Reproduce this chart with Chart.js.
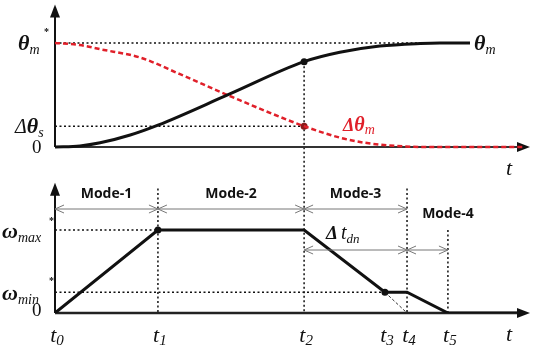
<!DOCTYPE html>
<html>
<head>
<meta charset="utf-8">
<script src="https://cdn.jsdelivr.net/npm/chart.js@4"></script>
<style>
  html, body { margin: 0; padding: 0; background: #fff; }
  #wrap { width: 534px; height: 352px; }
</style>
</head>
<body>
<div id="wrap"><canvas id="c" width="534" height="352"></canvas></div>
<script>
// Switching instants t0..t5 (time units along the shared horizontal axis)
const instants = [0, 2.19, 5.30, 7.02, 7.49, 8.36];
const instantNames = ['0', '1', '2', '3', '4', '5'];

// Position response theta_m (normalised to theta_m* = 1)
const thetaTime   = [0, 0.53, 0.96, 1.60, 2.19, 3.72, 5.30, 6.06, 6.91, 7.77, 8.19, 8.83];
const thetaValues = [0, 0.01, 0.04, 0.115, 0.21, 0.51, 0.82, 0.91, 0.97, 0.995, 1.0, 1.0];

// Position error delta theta_m
const errTime   = [0, 0.53, 0.96, 1.81, 2.66, 3.72, 5.30, 6.06, 6.60, 7.45, 8.00, 10];
const errValues = [1.0, 0.98, 0.94, 0.86, 0.70, 0.49, 0.20, 0.09, 0.04, 0.005, 0, 0];

// Speed reference profile omega (normalised to omega_max* = 1)
const omegaTime   = [0, 2.19, 5.30, 7.02, 7.49, 8.36, 10];
const omegaValues = [0, 1, 1, 0.25, 0.25, 0, 0];

// Reference levels
const thetaRef = 1.0;
const thetaSwitch = 0.2;
const omegaMax = 1.0;
const omegaMin = 0.25;

// Operating modes: [name, start instant index, end instant index]
const modeNames = ['Mode-1', 'Mode-2', 'Mode-3', 'Mode-4'];
const modeSpans = [[0, 1], [1, 2], [2, 4], [4, 5]];

const RED = '#e0202a';
const SERIF = '"Liberation Serif", "DejaVu Serif", serif';
const SANS = '"Open Sans", "Liberation Sans", sans-serif';

function pts(xs, ys) { return xs.map((x, i) => ({ x, y: ys[i] })); }

// Draws a run of text pieces (main symbol, subscript, etc.) left to right
function drawRun(ctx, x, y, parts, align, color) {
  ctx.save();
  ctx.textBaseline = 'alphabetic';
  ctx.textAlign = 'left';
  let total = 0;
  parts.forEach(p => { ctx.font = p.f; total += ctx.measureText(p.t).width + (p.gap || 0); });
  let cx = x;
  if (align === 'center') cx = x - total / 2;
  if (align === 'right') cx = x - total;
  parts.forEach(p => {
    ctx.font = p.f;
    ctx.fillStyle = p.c || color || '#111';
    ctx.fillText(p.t, cx, y + (p.dy || 0));
    cx += ctx.measureText(p.t).width + (p.gap || 0);
  });
  ctx.restore();
}

function line(ctx, x1, y1, x2, y2, w, color, dash) {
  ctx.save();
  ctx.beginPath();
  ctx.lineWidth = w;
  ctx.strokeStyle = color;
  ctx.setLineDash(dash || []);
  ctx.moveTo(x1, y1);
  ctx.lineTo(x2, y2);
  ctx.stroke();
  ctx.restore();
}

function solidArrowHead(ctx, x, y, dir) {
  ctx.save();
  ctx.fillStyle = '#111';
  ctx.beginPath();
  if (dir === 'up') { ctx.moveTo(x, y); ctx.lineTo(x - 5, y + 13); ctx.lineTo(x + 5, y + 13); }
  else { ctx.moveTo(x, y); ctx.lineTo(x - 13, y - 5); ctx.lineTo(x - 13, y + 5); }
  ctx.closePath();
  ctx.fill();
  ctx.restore();
}

function spanArrow(ctx, x1, x2, y) {
  const c = '#777';
  line(ctx, x1, y, x2, y, 1, c);
  line(ctx, x1, y, x1 + 9, y - 4, 1, c);
  line(ctx, x1, y, x1 + 9, y + 4, 1, c);
  line(ctx, x2, y, x2 - 9, y - 4, 1, c);
  line(ctx, x2, y, x2 - 9, y + 4, 1, c);
}

const DOT = [2, 2.5];

const diagram = {
  id: 'diagram',
  beforeDatasetsDraw(chart) {
    const ctx = chart.ctx;
    const X = chart.scales.x, YT = chart.scales.yTop, YB = chart.scales.yBot;
    const x0 = X.getPixelForValue(0), xEnd = X.getPixelForValue(10) + 5;
    const px = i => X.getPixelForValue(instants[i]);

    // Reference dotted lines, upper panel
    line(ctx, x0, YT.getPixelForValue(thetaRef), X.getPixelForValue(8.2), YT.getPixelForValue(thetaRef), 1.5, '#111', DOT);
    line(ctx, x0, YT.getPixelForValue(thetaSwitch), px(2), YT.getPixelForValue(thetaSwitch), 1.5, '#111', DOT);
    // Reference dotted lines, lower panel
    line(ctx, x0, YB.getPixelForValue(omegaMax), px(1), YB.getPixelForValue(omegaMax), 1.5, '#111', DOT);
    line(ctx, x0, YB.getPixelForValue(omegaMin), px(3), YB.getPixelForValue(omegaMin), 1.5, '#111', DOT);

    // Vertical markers at switching instants
    line(ctx, px(1), YB.getPixelForValue(1.5), px(1), YB.getPixelForValue(0), 1.5, '#111', DOT);
    line(ctx, px(2), YT.getPixelForValue(0.82), px(2), YB.getPixelForValue(0), 1.5, '#111', DOT);
    line(ctx, px(4), YB.getPixelForValue(1.5), px(4), YB.getPixelForValue(0), 1.5, '#111', DOT);
    line(ctx, px(5), YB.getPixelForValue(1.0), px(5), YB.getPixelForValue(0), 1.5, '#111', DOT);

    // Axes with arrowheads
    const yt0 = YT.getPixelForValue(0), yb0 = YB.getPixelForValue(0);
    line(ctx, x0, yt0, xEnd - 6, yt0, 2, '#333');
    line(ctx, x0, yt0, x0, YT.getPixelForValue(1.37) + 6, 2, '#111');
    solidArrowHead(ctx, x0, YT.getPixelForValue(1.37), 'up');
    solidArrowHead(ctx, xEnd, yt0, 'right');
    line(ctx, x0, yb0, xEnd - 6, yb0, 2.5, '#222');
    line(ctx, x0, yb0, x0, YB.getPixelForValue(1.57) + 6, 2, '#111');
    solidArrowHead(ctx, x0, YB.getPixelForValue(1.57), 'up');
    solidArrowHead(ctx, xEnd, yb0, 'right');
  },
  afterDatasetsDraw(chart) {
    const ctx = chart.ctx;
    const X = chart.scales.x, YT = chart.scales.yTop, YB = chart.scales.yBot;
    const px = i => X.getPixelForValue(instants[i]);
    const big = 'bold italic 22px ' + SERIF;
    const sub = 'italic 14px ' + SERIF;
    const star = 'bold 10px ' + SERIF;

    // Upper panel labels
    let y = YT.getPixelForValue(thetaRef);
    drawRun(ctx, 18, y + 7, [{ t: 'θ', f: big }, { t: 'm', f: sub, dy: 4 }], 'left');
    drawRun(ctx, 44, y - 8, [{ t: '*', f: star }], 'left');
    y = YT.getPixelForValue(thetaSwitch);
    drawRun(ctx, 15, y + 7, [{ t: 'Δ', f: 'italic 20px ' + SERIF }, { t: 'θ', f: big }, { t: 's', f: sub, dy: 4 }], 'left');
    drawRun(ctx, 32, YT.getPixelForValue(0) + 6, [{ t: '0', f: '19px ' + SERIF }], 'left');
    drawRun(ctx, 474, YT.getPixelForValue(thetaRef) + 7, [{ t: 'θ', f: big }, { t: 'm', f: sub, dy: 4 }], 'left');
    drawRun(ctx, 343, YT.getPixelForValue(0.2) + 5,
      [{ t: 'Δ', f: 'bold italic 18px ' + SERIF }, { t: 'θ', f: 'bold italic 20px ' + SERIF }, { t: 'm', f: 'italic 14px ' + SERIF, dy: 3 }], 'left', RED);
    drawRun(ctx, 506, YT.getPixelForValue(0) + 28, [{ t: 't', f: 'italic 22px ' + SERIF }], 'left');

    // Lower panel labels
    y = YB.getPixelForValue(omegaMax);
    drawRun(ctx, 2, y + 8, [{ t: 'ω', f: big }, { t: 'max', f: sub, dy: 4 }], 'left');
    drawRun(ctx, 49, y - 6, [{ t: '*', f: star }], 'left');
    y = YB.getPixelForValue(omegaMin);
    drawRun(ctx, 2, y + 8, [{ t: 'ω', f: big }, { t: 'min', f: sub, dy: 4 }], 'left');
    drawRun(ctx, 49, y - 8, [{ t: '*', f: star }], 'left');
    drawRun(ctx, 32, YB.getPixelForValue(0) + 3, [{ t: '0', f: '19px ' + SERIF }], 'left');
    instants.forEach((t, i) => {
      drawRun(ctx, px(i) + 2, YB.getPixelForValue(0) + 29,
        [{ t: 't', f: 'italic 22px ' + SERIF }, { t: instantNames[i], f: 'italic 15px ' + SERIF, dy: 3 }], 'center');
    });
    drawRun(ctx, 506, YB.getPixelForValue(0) + 28, [{ t: 't', f: 'italic 22px ' + SERIF }], 'left');

    // Mode spans
    const rowA = YB.getPixelForValue(0) - 104;
    const rowB = YB.getPixelForValue(0) - 63;
    modeSpans.forEach((s, k) => {
      const a = px(s[0]), b = px(s[1]);
      const row = k === 3 ? rowB : rowA;
      spanArrow(ctx, a, b, row);
      const lx = k === 3 ? b : (a + b) / 2;
      const ly = k === 3 ? rowB - 32 : rowA - 11;
      drawRun(ctx, lx, ly, [{ t: modeNames[k], f: 'bold 14px ' + SANS }], 'center');
    });
    // Deceleration interval
    spanArrow(ctx, px(2), px(4), rowB);
    drawRun(ctx, 326, rowB - 11,
      [{ t: 'Δ', f: 'bold italic 19px ' + SERIF, gap: 3 }, { t: 't', f: 'italic 20px ' + SERIF }, { t: 'dn', f: 'italic 13px ' + SERIF, dy: 4 }], 'left');
  }
};

const chart = new Chart(document.getElementById('c'), {
  type: 'line',
  data: {
    datasets: [
      {
        data: pts(thetaTime, thetaValues), yAxisID: 'yTop',
        borderColor: '#111', borderWidth: 3, pointRadius: 0,
        cubicInterpolationMode: 'monotone'
      },
      {
        data: pts(errTime, errValues), yAxisID: 'yTop',
        borderColor: RED, borderWidth: 2.5, borderDash: [5, 3], pointRadius: 0,
        cubicInterpolationMode: 'monotone'
      },
      {
        data: pts(omegaTime, omegaValues), yAxisID: 'yBot',
        borderColor: '#111', borderWidth: 3, pointRadius: 0, tension: 0
      },
      {
        // extrapolated deceleration slope down to zero at t4
        data: [{ x: instants[3], y: omegaMin }, { x: instants[4], y: 0 }], yAxisID: 'yBot',
        borderColor: '#333', borderWidth: 1, borderDash: [3, 2], pointRadius: 0
      },
      {
        type: 'scatter', yAxisID: 'yBot',
        data: [{ x: instants[1], y: omegaMax }, { x: instants[3], y: omegaMin }],
        pointRadius: 3.5, pointBackgroundColor: '#111', pointBorderWidth: 0
      },
      {
        type: 'scatter', yAxisID: 'yTop',
        data: [{ x: instants[2], y: 0.82 }],
        pointRadius: 3.5, pointBackgroundColor: '#111', pointBorderWidth: 0
      },
      {
        type: 'scatter', yAxisID: 'yTop',
        data: [{ x: instants[2], y: 0.2 }],
        pointRadius: 3.5, pointBackgroundColor: '#8a1a1a', pointBorderWidth: 0
      }
    ]
  },
  options: {
    responsive: false,
    animation: false,
    devicePixelRatio: 1,
    layout: { padding: { left: 55, right: 9, top: 5, bottom: 39 } },
    plugins: { legend: { display: false }, tooltip: { enabled: false } },
    scales: {
      x: { type: 'linear', min: 0, max: 10, display: false },
      yTop: { type: 'linear', min: -1.596, max: 1.365, display: false },
      yBot: { type: 'linear', min: 0, max: 3.71, display: false }
    }
  },
  plugins: [diagram]
});
</script>
</body>
</html>
